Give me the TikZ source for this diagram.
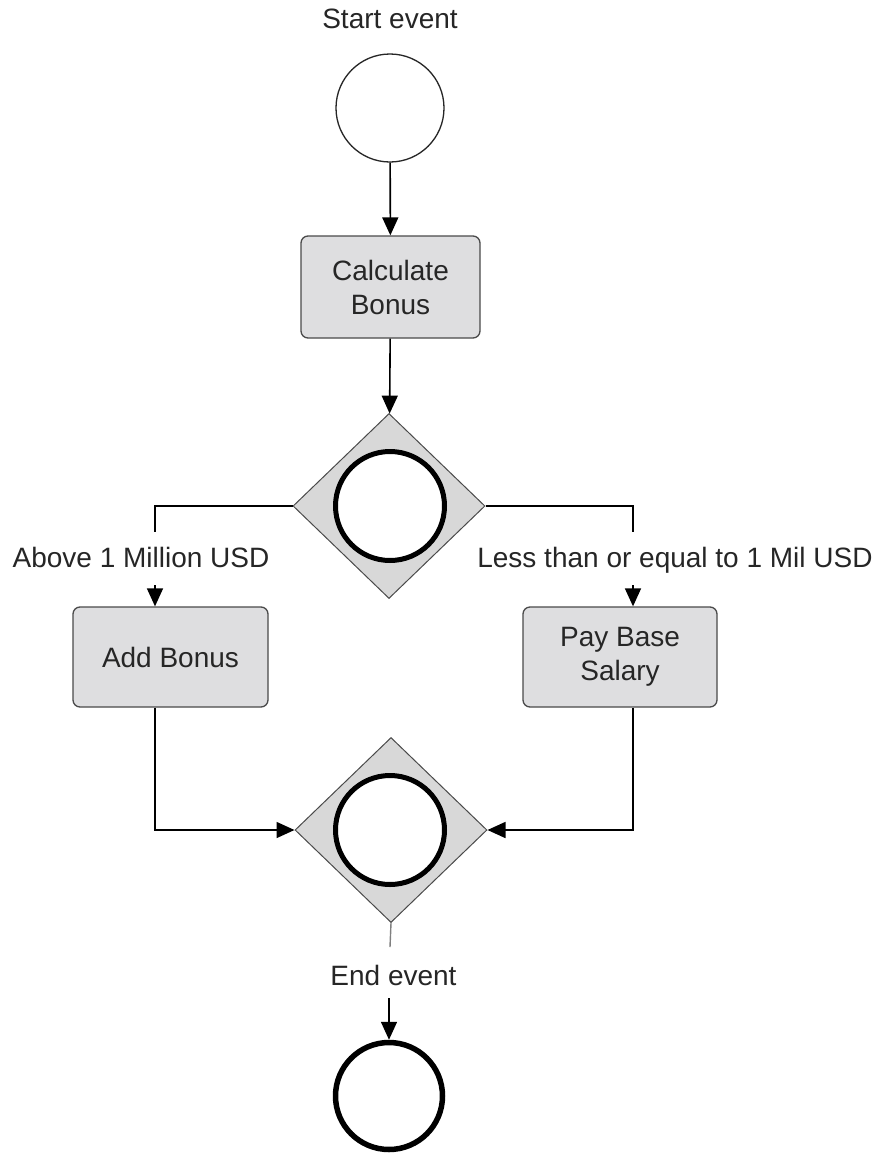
\documentclass[tikz,border=0pt]{standalone}
\usepackage{fontspec}
\setmainfont{Liberation Sans}
\usetikzlibrary{shapes.geometric,arrows.meta}
\definecolor{taskfill}{HTML}{DEDEE0}
\definecolor{gatefill}{HTML}{D8D8D8}
\definecolor{edgegray}{HTML}{4A4A4A}
\definecolor{txt}{HTML}{262626}
\tikzset{
  lbl/.style={font=\fontsize{28}{34}\selectfont, text=txt, inner sep=0pt, align=center},
  task/.style={draw=edgegray, line width=1.3pt, fill=taskfill, rounded corners=7pt,
               inner sep=0pt, font=\fontsize{28}{34}\selectfont, text=txt, align=center},
  gate/.style={diamond, draw=edgegray, line width=1pt, fill=gatefill, inner sep=0pt,
               minimum width=192pt, minimum height=185pt},
  gatering/.style={circle, draw=black, line width=5pt, fill=white, inner sep=0pt, minimum size=109pt},
  startev/.style={circle, draw=black!85, line width=1.3pt, fill=white, inner sep=0pt, minimum size=108pt},
  endev/.style={circle, draw=black, line width=5.5pt, fill=white, inner sep=0pt, minimum size=107pt},
  flow/.style={draw=black, line width=1.6pt},
  arr/.style={flow, -{Triangle[width=16pt,length=18pt]}},
}
\begin{document}
\begin{tikzpicture}[x=1pt,y=-1pt]
  \path[use as bounding box, fill=white] (0,0) rectangle (883,1162);

  % events, tasks and gateways
  \node[lbl, anchor=base] (startlbl) at (390,28) {Start event};
  \node[startev] (start) at (390,108) {};
  \node[task, minimum width=179pt, minimum height=102pt] (calc) at (390.5,287) {Calculate\\Bonus};
  \node[gate] (g1) at (389,506) {};
  \node[gatering] (g1r) at (390,506) {};
  \node[lbl, anchor=base] (abovelbl) at (141,567) {Above 1 Million USD};
  \node[lbl, anchor=base] (lesslbl) at (675,567) {Less than or equal to 1 Mil USD};
  \node[task, minimum width=195pt, minimum height=100pt] (addb) at (170.5,657) {Add Bonus};
  \node[task, minimum width=194pt, minimum height=100pt] (payb) at (620,657) {Pay Base\\Salary};
  \node[gate] (g2) at (391,830) {};
  \node[gatering] (g2r) at (390,830) {};
  \node[lbl, anchor=base] (endlbl) at (393.5,985) {End event};
  \node[endev] (end) at (389,1096) {};

  % loose ends of the interrupted flows
  \coordinate (ja) at (155,532);
  \coordinate (ka) at (155,585);
  \coordinate (jb) at (633,532);
  \coordinate (kb) at (633,585);
  \coordinate (stub) at (390,947);
  \coordinate (ke) at (389,998);

  % sequence flows
  \draw[arr] (start) -- (calc);
  \draw[arr] (calc) -- (g1);
  \draw[flow] (g1.west) -| (ja);
  \draw[flow] (g1.east) -| (jb);
  \draw[arr] (ka) -- (ka |- addb.north);
  \draw[arr] (kb) -- (kb |- payb.north);
  \draw[arr] (ka |- addb.south) |- (g2.west);
  \draw[arr] (kb |- payb.south) |- (g2.east);
  \draw[draw=black!50, line width=1.4pt] (g2.south) -- (stub);
  \draw[arr] (ke) -- (ke |- end.north);
\end{tikzpicture}
\end{document}
